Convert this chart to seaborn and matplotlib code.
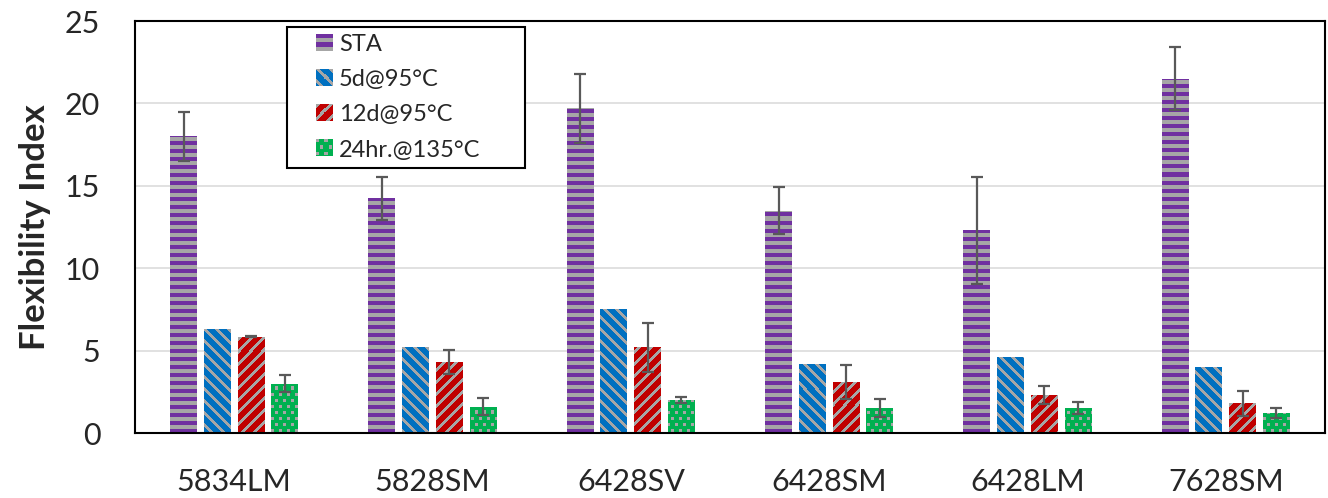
import matplotlib
matplotlib.use("Agg")
import matplotlib.pyplot as plt
import seaborn as sns
import numpy as np
import pandas as pd
from matplotlib.colors import to_rgb
from matplotlib.legend_handler import HandlerBase
from matplotlib.image import BboxImage
from matplotlib.transforms import Bbox, TransformedBbox

# ---- data ----
samples = ["5834LM", "5828SM", "6428SV", "6428SM", "6428LM", "7628SM"]
conditions = ["STA", "5d@95°C", "12d@95°C", "24hr.@135°C"]
sta = [18.0, 14.25, 19.7, 13.5, 12.3, 21.5]
sta_err = [1.5, 1.3, 2.1, 1.45, 3.25, 1.9]
d5 = [6.3, 5.2, 7.5, 4.2, 4.6, 4.0]
d5_err = [np.nan] * 6
d12 = [5.85, 4.3, 5.2, 3.1, 2.3, 1.8]
d12_err = [0.05, 0.75, 1.5, 1.05, 0.53, 0.75]
hr24 = [3.0, 1.6, 2.0, 1.5, 1.5, 1.2]
hr24_err = [0.5, 0.5, 0.2, 0.55, 0.36, 0.3]

values = [sta, d5, d12, hr24]
errors = [sta_err, d5_err, d12_err, hr24_err]
yticks = [0, 5, 10, 15, 20, 25]

# ---- styles ----
gray = "#A6A6A6"
main_colors = ["#7030A0", "#0070C0", "#C00000", "#00B050"]
patterns = ["hstripe", "bdiag", "fdiag", "confetti"]


def texture(kind, color, H, W):
    """Pixel pattern (style only): coloured stripes / dots over grey."""
    r, j = np.mgrid[0:H, 0:W]
    if kind == "hstripe":
        mask = (r % 8) < 4                      # True -> main colour
    elif kind == "bdiag":
        mask = ((j - r) % 12) >= 4
    elif kind == "fdiag":
        mask = ((j + r) % 12) >= 4
    else:
        rr, jj = r % 12, j % 8
        dots = ((rr < 3) & (jj < 3)) | ((rr >= 6) & (rr < 9) & (jj >= 4) & (jj < 7))
        mask = ~dots
    out = np.empty((H, W, 3))
    out[:] = to_rgb(gray)
    out[mask] = to_rgb(color)
    return out


df = pd.DataFrame({
    "sample": np.tile(samples, len(conditions)),
    "condition": np.repeat(conditions, len(samples)),
    "value": np.concatenate(values),
})

sns.set_style("white")
plt.rcParams["font.family"] = ["Lato", "DejaVu Sans"]

W_PX, H_PX = 1328, 498
AX_L, AX_B, AX_W, AX_H = 135, 65, 1190, 412
fig = plt.figure(figsize=(W_PX / 100, H_PX / 100), dpi=100)
ax = fig.add_axes([AX_L / W_PX, AX_B / H_PX, AX_W / W_PX, AX_H / H_PX])

sns.barplot(data=df, x="sample", y="value", hue="condition",
            hue_order=conditions, order=samples,
            palette=main_colors, saturation=1, width=0.68, gap=0.2,
            errorbar=None, legend=False, ax=ax, zorder=2)

ax.set_ylim(0, 25)
ax.set_xlim(-0.5, len(samples) - 0.5)
xl, yl = ax.get_xlim(), ax.get_ylim()

bar_containers = list(ax.containers)
for i, cont in enumerate(bar_containers):
    tex = texture(patterns[i], main_colors[i], AX_H, AX_W)
    for p in cont.patches:
        p.set_linewidth(0)
        im = ax.imshow(tex, extent=(xl[0], xl[1], yl[0], yl[1]), origin="upper",
                       interpolation="nearest", aspect="auto", zorder=2.5)
        im.set_clip_path(p)
    centers = [p.get_x() + p.get_width() / 2 for p in cont.patches]
    errs = np.array(errors[i], dtype=float)
    if np.all(np.isnan(errs)):
        continue
    ax.errorbar(centers, values[i], yerr=errs, fmt="none",
                ecolor="#595959", elinewidth=1.6, capsize=4.5,
                capthick=1.6, zorder=3)

ax.set_xlim(xl)
ax.set_ylim(yl)
ax.set_yticks(yticks)
ax.set_yticklabels([str(t) for t in yticks])
ax.yaxis.grid(True, color="#D9D9D9", linewidth=1.1, zorder=0)
ax.set_axisbelow(True)
ax.tick_params(axis="both", length=0, labelsize=22)
ax.tick_params(axis="y", pad=25)
ax.tick_params(axis="x", pad=25)
ax.set_xlabel("")
ax.set_ylabel("Flexibility Index", fontsize=25, fontweight="bold", labelpad=10)
for s in ax.spines.values():
    s.set_visible(True)
    s.set_color("black")
    s.set_linewidth(1.5)


class TextureHandler(HandlerBase):
    def __init__(self, tex):
        super().__init__()
        self.tex = tex

    def legend_artist(self, legend, orig_handle, fontsize, handlebox):
        sq = 0.68 * fontsize
        x0 = -handlebox.xdescent + handlebox.width - sq
        y0 = -handlebox.ydescent + (handlebox.height - sq) / 2
        bb = TransformedBbox(Bbox.from_bounds(x0, y0, sq, sq), handlebox.get_transform())
        img = BboxImage(bb, interpolation="nearest")
        img.set_data(self.tex)
        handlebox.add_artist(img)
        return img


handles = [cont.patches[0] for cont in bar_containers]
hmap = {h: TextureHandler(texture(patterns[i], main_colors[i], 16, 16))
        for i, h in enumerate(handles)}
leg = ax.legend(handles, conditions, loc="upper left",
                bbox_to_anchor=(152 / AX_W, (433 - 167) / AX_H, 238 / AX_W, 140 / AX_H),
                mode="expand",
                borderaxespad=0, fontsize=17, frameon=True, fancybox=False,
                edgecolor="black", framealpha=1, handlelength=1.6,
                handleheight=0.7, handletextpad=0.3, labelspacing=0.6,
                borderpad=0.3, handler_map=hmap)
leg.get_frame().set_linewidth(1.5)

fig.savefig("out.png", dpi=100)
